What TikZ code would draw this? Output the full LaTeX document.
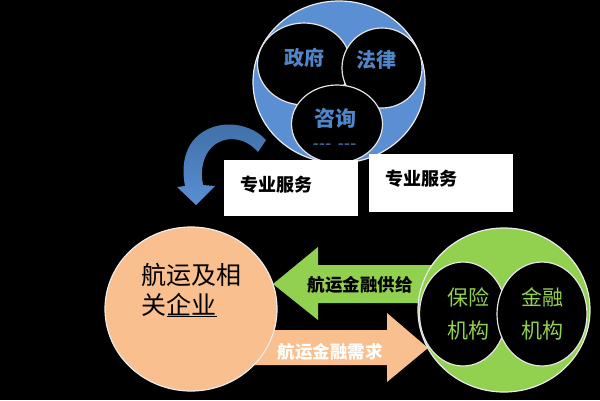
\documentclass[tikz,border=0pt]{standalone}
\usepackage{fontspec}
\newfontfamily\cjk{Noto Sans CJK SC}
\usetikzlibrary{shapes.geometric}
\definecolor{bluec}{HTML}{5B8FD3}
\definecolor{bluedark}{HTML}{3E6EA6}
\definecolor{bluetext}{HTML}{5085C8}
\definecolor{orangec}{HTML}{F9BF8F}
\definecolor{greenc}{HTML}{92D050}
\tikzset{
  bigcirc/.style={ellipse, draw=white!85!gray, line width=1.2pt, inner sep=0pt},
  innercirc/.style={ellipse, fill=black, draw=white!80!gray, line width=1.2pt, inner sep=0pt},
  bluelbl/.style={text=bluetext, font=\cjk\bfseries\fontsize{20}{22}\selectfont},
  greenlbl/.style={text=greenc, font=\cjk\fontsize{21}{33}\selectfont, align=center},
  boxw/.style={fill=white, draw=white, inner sep=0pt},
  boxlbl/.style={font=\cjk\bfseries\fontsize{18}{20}\selectfont, text=black},
  arrlbl/.style={font=\cjk\bfseries\fontsize{17.5}{20}\selectfont}
}
\begin{document}
\begin{tikzpicture}[x=1pt,y=-1pt]
\fill[black] (0,0) rectangle (600,400);
\useasboundingbox (0,0) rectangle (600,400);

% top cluster
\node[bigcirc, fill=bluec, minimum width=172, minimum height=162] (top) at (339,82) {};
\node[innercirc, minimum width=93, minimum height=82] (gov) at (304,64) {};
\node[innercirc, minimum width=80, minimum height=80] (law) at (382,68) {};
\node[innercirc, minimum width=91, minimum height=78] (con) at (337,124) {};
\node[bluelbl] (govt) at (304,58) {政府};
\node[bluelbl] (lawt) at (376,60) {法律};
\node[bluelbl, font=\cjk\bfseries\fontsize{21}{22}\selectfont] (cont) at (335,118) {咨询};
\node[text=bluetext, font=\sffamily\bfseries\fontsize{17}{17}\selectfont] (dash) at (335,146) {-{}-{}- -{}-{}-};

% curved arrow
\shade[top color=bluedark, bottom color=bluec]
  (266,140) .. controls (248,120) and (210,118) .. (192,142)
  .. controls (183,155) and (182,170) .. (185,186)
  -- (177,187) -- (196,205) -- (215,186) -- (203,185)
  .. controls (200,170) and (203,156) .. (212,147)
  .. controls (226,134) and (246,138) .. (258,152) -- cycle;

% boxes
\node[boxw, minimum width=133, minimum height=55] (b1) at (290.5,187.5) {};
\node[boxw, minimum width=143, minimum height=57] (b2) at (440.5,182.5) {};
\node[boxlbl] (b1t) at (276,185) {专业服务};
\node[boxlbl] (b2t) at (421,179) {专业服务};

% block arrows (behind circles)
\fill[greenc] (273,284) -- (318,247) -- (318,265) -- (440,265) -- (440,303) -- (318,303) -- (318,320) -- cycle;
\fill[orangec] (428,348) -- (387,313) -- (387,330) -- (250,330) -- (250,365) -- (387,365) -- (387,382) -- cycle;

% bottom left circle
\node[bigcirc, fill=orangec, minimum width=172, minimum height=164] (ship) at (191,309) {};
\node[font=\cjk\fontsize{25}{30}\selectfont, align=left, anchor=west] (shipt) at (138,290) {航运及相\\关\underline{企业}};

% bottom right circle
\node[bigcirc, fill=greenc, minimum width=172, minimum height=164] (fin) at (504,310) {};
\node[innercirc, minimum width=87, minimum height=104] (ins) at (463,314) {};
\node[innercirc, minimum width=90, minimum height=104] (bank) at (542,314) {};
\node[greenlbl] (inst) at (468,314) {保险\\机构};
\node[greenlbl] (bankt) at (542,314) {金融\\机构};

% arrow labels
\node[arrlbl, text=black] (supply) at (360,285) {航运金融供给};
\node[arrlbl, text=white] (demand) at (330,352) {航运金融需求};
\end{tikzpicture}
\end{document}
